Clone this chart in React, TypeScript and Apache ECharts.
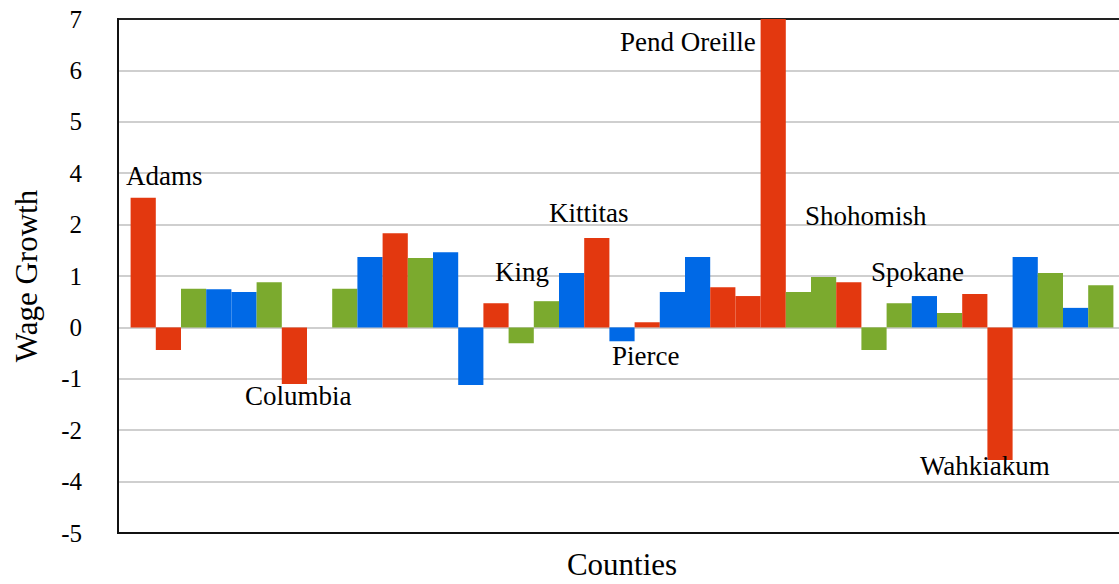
import React, { useEffect, useRef } from "react";
import * as echarts from "echarts";

// Washington counties, alphabetical
const counties = [
  "Adams", "Asotin", "Benton", "Chelan", "Clallam", "Clark", "Columbia", "Cowlitz",
  "Douglas", "Ferry", "Franklin", "Garfield", "Grant", "Grays Harbor", "Island",
  "Jefferson", "King", "Kitsap", "Kittitas", "Klickitat", "Lewis", "Lincoln", "Mason",
  "Okanogan", "Pacific", "Pend Oreille", "Pierce", "San Juan", "Skagit", "Skamania",
  "Snohomish", "Spokane", "Stevens", "Thurston", "Wahkiakum", "Walla Walla", "Whatcom",
  "Whitman", "Yakima",
];

// bar heights, in axis units as drawn
const growth: (number | null)[] = [
  2.52, -0.44, 0.75, 0.74, 0.69, 0.88, -1.1, null,
  0.75, 1.37, 1.83, 1.35, 1.46, -1.12, 0.47,
  -0.31, 0.51, 1.06, 1.74, -0.27, 0.1, 0.69, 1.37,
  0.78, 0.61, 6.0, 0.69, 0.98, 0.88, -0.44,
  0.47, 0.61, 0.28, 0.65, -2.58, 1.37, 1.06,
  0.38, 0.82,
];

// colour group per county
const groups = [
  "R", "R", "G", "B", "B", "G", "R", "",
  "G", "B", "R", "G", "B", "B", "R",
  "G", "G", "B", "R", "B", "R", "B", "B",
  "R", "R", "R", "G", "G", "R", "G",
  "G", "B", "G", "R", "R", "B", "G",
  "B", "G",
];

// tick labels as printed, for axis values -4 .. 6
const tickLabels = ["-5", "-4", "-2", "-1", "0", "1", "2", "4", "5", "6", "7"];

const annotations = ["Adams", "Columbia", "King", "Kittitas", "Pierce", "Pend Oreille", "Shohomish", "Spokane", "Wahkiakum"];
const annotationPos = [
  [126, 176], [245, 396], [495, 272], [549, 213], [612, 356],
  [620, 42], [805, 216], [871, 272], [920, 466],
];

const palette: Record<string, string> = { R: "#e3380f", B: "#0069e6", G: "#7baa2e" };
const FONT = "Liberation Serif";

export default function App() {
  const ref = useRef<HTMLDivElement>(null);
  useEffect(() => {
    if (!ref.current) return;
    const chart = echarts.init(ref.current, null, { renderer: "svg" });
    const data = counties.map((name, i) => ({
      name,
      value: [i, growth[i] === null ? "-" : growth[i]],
      itemStyle: { color: palette[groups[i]] || "#000" },
    }));
    chart.setOption({
      animation: false,
      backgroundColor: "#ffffff",
      textStyle: { fontFamily: FONT },
      grid: {
        left: 118,
        top: 19,
        width: 1008,
        bottom: 51,
        outerBoundsMode: "none",
        containLabel: false,
        show: true,
        borderColor: "#222",
        borderWidth: 2,
        backgroundColor: "transparent",
      },
      xAxis: {
        type: "value",
        min: -1,
        max: 39,
        name: "Counties",
        nameLocation: "middle",
        nameGap: 16,
        nameTextStyle: { fontFamily: FONT, fontSize: 31, color: "#000" },
        axisLine: { show: true, onZero: false, lineStyle: { color: "#111", width: 2 } },
        axisTick: { show: false },
        axisLabel: { show: false },
        splitLine: { show: false },
      },
      yAxis: {
        type: "value",
        min: -4,
        max: 6,
        interval: 1,
        name: "Wage Growth",
        nameLocation: "middle",
        nameGap: 76,
        nameRotate: 90,
        nameTextStyle: { fontFamily: FONT, fontSize: 31, color: "#000" },
        axisLine: { show: true, onZero: false, lineStyle: { color: "#111", width: 2 } },
        axisTick: { show: false },
        axisLabel: {
          margin: 36,
          fontFamily: "serif",
          fontSize: 25,
          color: "#000",
          formatter: (v: number) => tickLabels[Math.round(v) + 4] ?? "",
        },
        splitLine: {
          show: true,
          showMinLine: false,
          showMaxLine: false,
          lineStyle: { color: "#cfcfcf", width: 2 },
        },
      },
      series: [
        {
          type: "bar",
          data,
          barCategoryGap: "0%",
          barGap: "0%",
          clip: true,
        },
      ],
      graphic: annotations.map((t, i) => ({
        type: "text",
        x: annotationPos[i][0],
        y: annotationPos[i][1],
        z: 100,
        style: {
          text: t,
          font: "27px 'Liberation Serif'",
          fill: "#000",
          align: "left",
          verticalAlign: "middle",
        },
      })),
    });
    return () => chart.dispose();
  }, []);
  return (
    <div
      ref={ref}
      style={{ position: "fixed", left: 0, top: 0, width: 1119, height: 584 }}
    />
  );
}
